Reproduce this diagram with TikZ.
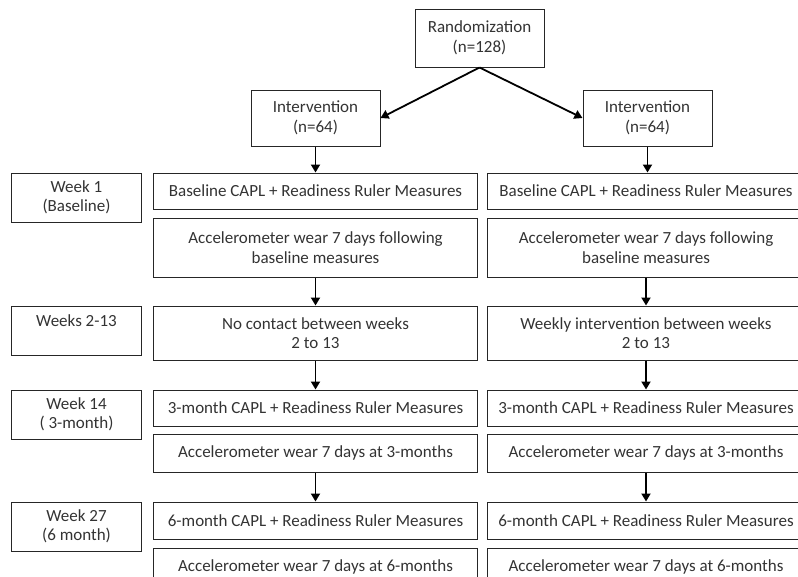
\documentclass[tikz,border=0pt]{standalone}
\usepackage{fontspec}
\setmainfont{Carlito}
\usetikzlibrary{arrows.meta,positioning}
\tikzset{
  box/.style={draw=black!85, line width=1pt, text=black!80, align=center,
    inner sep=0pt, font=\fontsize{17}{19.5}\selectfont},
  arm/.style={box, minimum width=129pt, minimum height=56pt},
  wk/.style={box, minimum width=130pt, minimum height=49pt, anchor=north east},
  meas/.style={box, minimum width=324pt, minimum height=36pt},
  measr/.style={meas, minimum width=317pt},
  flow/.style={-{Triangle[length=8pt,width=9pt]}, line width=1.8pt, black},
}
\begin{document}
\begin{tikzpicture}[x=1pt,y=-1pt]
\useasboundingbox (0,0) rectangle (798,576);
\clip (0,0) rectangle (798,576);

\node[arm, minimum height=58pt] (R) at (479.5,38) {Randomization\\(n=128)};
\node[arm] (IL) at (315.5,118) {Intervention\\(n=64)};
\node[arm] (IR) at (647.5,118) {Intervention\\(n=64)};

% left arm
\node[meas, below=26pt of IL] (BL) {Baseline CAPL + Readiness Ruler Measures};
\node[meas, below=8pt of BL, minimum height=59pt] (AL) {Accelerometer wear 7 days following\\baseline measures};
\node[meas, below=28pt of AL, minimum height=54pt] (NL) {No contact between weeks\\2 to 13};
\node[meas, below=29pt of NL] (TL) {3-month CAPL + Readiness Ruler Measures};
\node[meas, below=7pt of TL, minimum height=38pt] (AL3) {Accelerometer wear 7 days at 3-months};
\node[meas, below=29pt of AL3, minimum height=37pt] (SL) {6-month CAPL + Readiness Ruler Measures};
\node[meas, below=8pt of SL, minimum height=38pt] (AL6) {Accelerometer wear 7 days at 6-months};

% right arm
\node[measr, right=9pt of BL] (BR) {Baseline CAPL + Readiness Ruler Measures};
\node[measr, right=9pt of AL, minimum height=59pt] (AR) {Accelerometer wear 7 days following\\baseline measures};
\node[measr, right=9pt of NL, minimum height=54pt] (NR) {Weekly intervention between weeks\\2 to 13};
\node[measr, right=9pt of TL] (TR) {3-month CAPL + Readiness Ruler Measures};
\node[measr, right=9pt of AL3, minimum height=38pt] (AR3) {Accelerometer wear 7 days at 3-months};
\node[measr, right=9pt of SL, minimum height=37pt] (SR) {6-month CAPL + Readiness Ruler Measures};
\node[measr, right=9pt of AL6, minimum height=38pt] (AR6) {Accelerometer wear 7 days at 6-months};

% time points
\node[wk] (W1) at ([xshift=-11pt]BL.north west) {Week 1\\(Baseline)};
\node[wk] (W2) at ([xshift=-11pt]NL.north west) {Weeks 2-13\\~};
\node[wk] (W14) at ([xshift=-11pt]TL.north west) {Week 14\\( 3-month)};
\node[wk] (W27) at ([xshift=-11pt]SL.north west) {Week 27\\(6 month)};

\draw[flow] (R.south) -- (IL.east);
\draw[flow] (R.south) -- (IR.west);
\draw[flow] (IL.south) -- (IL.south |- BL.north);
\draw[flow] (IR.south) -- (IR.south |- BR.north);
\draw[flow] (AL) -- (NL);
\draw[flow] (NL) -- (TL);
\draw[flow] (AL3) -- (SL);
\draw[flow] (AR) -- (NR);
\draw[flow] (NR) -- (TR);
\draw[flow] (AR3) -- (SR);
\end{tikzpicture}
\end{document}
